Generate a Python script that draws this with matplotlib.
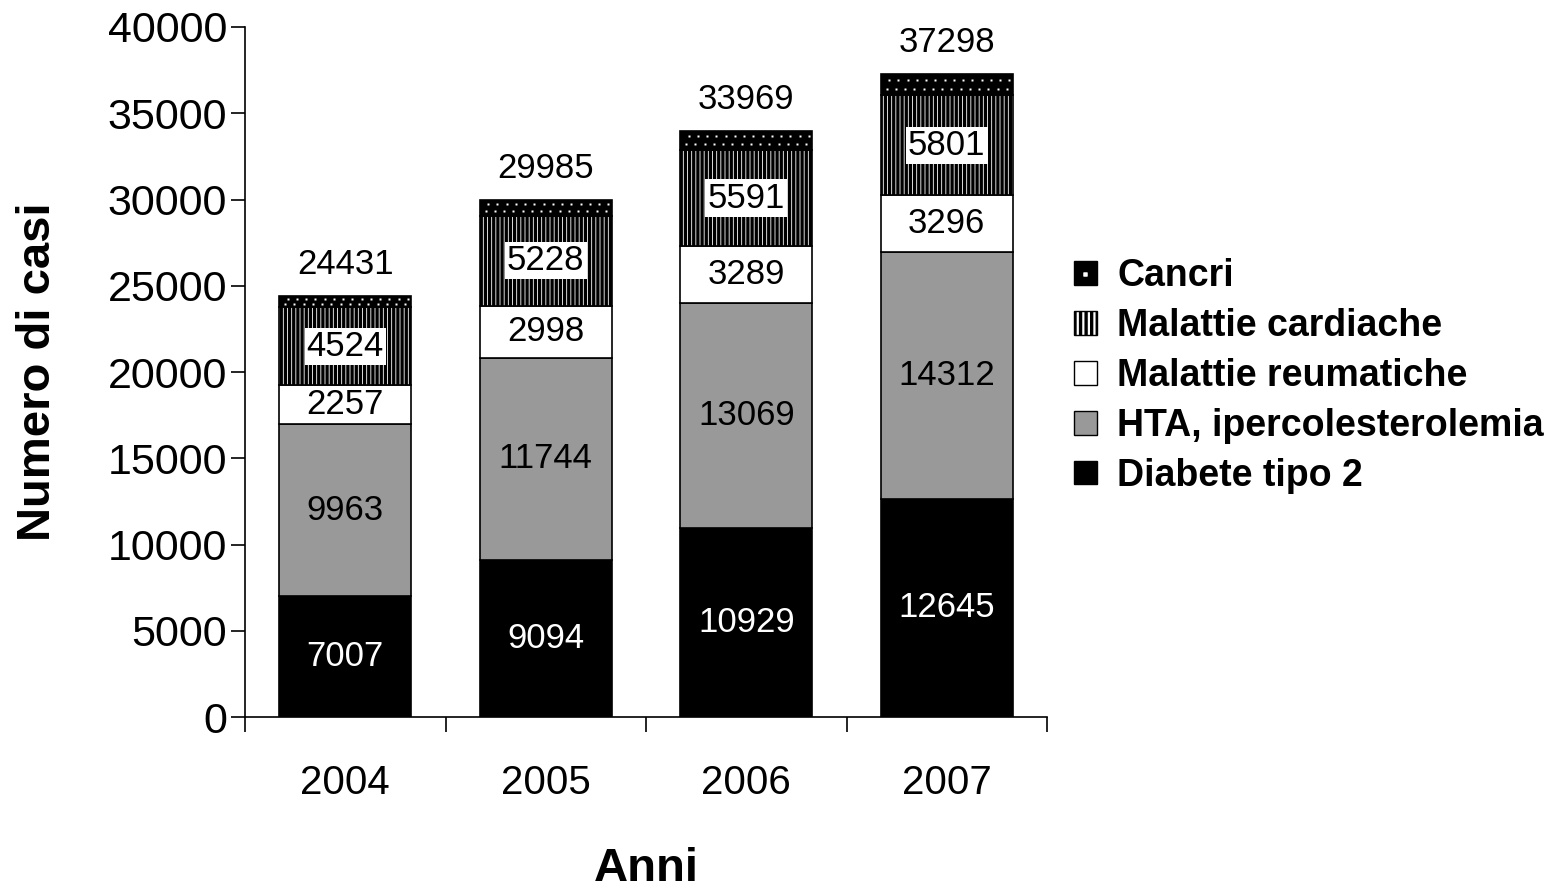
import numpy as np
import matplotlib.pyplot as plt
from matplotlib.ticker import FixedLocator
from matplotlib.patches import Patch
from matplotlib.lines import Line2D

plt.rcParams['font.family'] = ['Liberation Sans', 'DejaVu Sans']
plt.rcParams['hatch.linewidth'] = 2.4

anni = ['2004', '2005', '2006', '2007']
diabete = [7007, 9094, 10929, 12645]
hta = [9963, 11744, 13069, 14312]
reuma = [2257, 2998, 3289, 3296]
cardiache = [4524, 5228, 5591, 5801]
totali = [24431, 29985, 33969, 37298]
cancri = [t - (a + b + c + d) for t, a, b, c, d in zip(totali, diabete, hta, reuma, cardiache)]

fig = plt.figure(figsize=(15.54, 8.88), dpi=100)
ax = fig.add_axes([245 / 1554, 1 - 717 / 888, 802 / 1554, 690 / 888])

x = np.arange(len(anni))
w = 0.66
b0 = np.zeros(4)
b1 = b0 + diabete
b2 = b1 + hta
b3 = b2 + reuma
b4 = b3 + cardiache

ax.bar(x, diabete, w, bottom=b0, color='black', edgecolor='black', lw=1.2)
ax.bar(x, hta, w, bottom=b1, color='#999999', edgecolor='black', lw=1.2)
ax.bar(x, reuma, w, bottom=b2, color='white', edgecolor='black', lw=1.2)
ax.bar(x, cardiache, w, bottom=b3, color='white', edgecolor='black', hatch='||||', lw=1.2)
ax.bar(x, cancri, w, bottom=b4, color='black', edgecolor='black', lw=1.2)
# puntini bianchi sui cancri
for i in range(4):
    xs = np.linspace(x[i] - w / 2 + 0.03, x[i] + w / 2 - 0.03, 14)
    for k, yy in enumerate([b4[i] + cancri[i] * 0.3, b4[i] + cancri[i] * 0.72]):
        ax.plot(xs + (0.012 if k else 0), np.full(14, yy), ls='none', marker='s', ms=1.6, color='white', mec='none')

fs = 25
for i in range(4):
    ax.text(x[i], diabete[i] / 2, str(diabete[i]), ha='center', va='center', color='white', fontsize=fs)
    ax.text(x[i], b1[i] + hta[i] / 2, str(hta[i]), ha='center', va='center', color='black', fontsize=fs)
    ax.text(x[i], b2[i] + reuma[i] / 2, str(reuma[i]), ha='center', va='center', color='black', fontsize=fs)
    ax.text(x[i], b3[i] + cardiache[i] / 2, str(cardiache[i]), ha='center', va='center', color='black', fontsize=fs,
            bbox=dict(facecolor='white', edgecolor='none', pad=1.5))
    ax.text(x[i], totali[i] + 1800, str(totali[i]), ha='center', va='center', color='black', fontsize=fs)

ax.set_xlim(-0.5, 3.5)
ax.set_ylim(0, 40000)
ax.set_yticks(range(0, 40001, 5000))
ax.xaxis.set_major_locator(FixedLocator(x))
ax.set_xticklabels(anni)
ax.xaxis.set_minor_locator(FixedLocator([-0.5, 0.5, 1.5, 2.5, 3.5]))
ax.tick_params(axis='x', which='major', length=0, pad=34, labelsize=29)
ax.tick_params(axis='x', which='minor', length=11, width=1.2)
ax.tick_params(axis='y', length=10, width=1.2, labelsize=31, pad=3)
for s in ['top', 'right']:
    ax.spines[s].set_visible(False)
for s in ['left', 'bottom']:
    ax.spines[s].set_linewidth(1.2)

ax.set_ylabel('Numero di casi', fontsize=34, fontweight='bold', labelpad=34)
ax.set_xlabel('Anni', fontsize=34, fontweight='bold', labelpad=32)

handles = [
    (Patch(facecolor='black', edgecolor='black'),
     Line2D([], [], ls='none', marker='s', ms=2.2, color='white', mec='none')),
    Patch(facecolor='white', edgecolor='black', hatch='|||'),
    Patch(facecolor='white', edgecolor='black'),
    Patch(facecolor='#999999', edgecolor='black'),
    Patch(facecolor='black', edgecolor='black'),
]
labels = ['Cancri', 'Malattie cardiache', 'Malattie reumatiche', 'HTA, ipercolesterolemia', 'Diabete tipo 2']
leg = fig.legend(handles, labels, loc='center left', bbox_to_anchor=(1074 / 1554, 1 - 376 / 888),
                 frameon=False, prop=dict(size=27, weight='bold'), handlelength=0.6, handleheight=0.6,
                 handletextpad=0.55, labelspacing=0.37, borderpad=0, borderaxespad=0, numpoints=2)

fig.savefig('out.png', dpi=100)
